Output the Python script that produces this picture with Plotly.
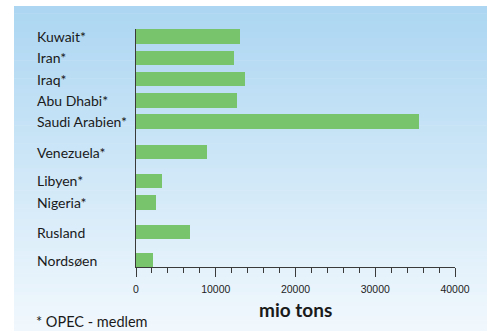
import plotly.graph_objects as go

categories = ["Kuwait*", "Iran*", "Iraq*", "Abu Dhabi*", "Saudi Arabien*",
              "Venezuela*", "Libyen*", "Nigeria*", "Rusland", "Nordsøen"]
reserves = [13100, 12300, 13700, 12650, 35500, 8900, 3250, 2500, 6750, 2100]
x_ticks = [0, 10000, 20000, 30000, 40000]
x_title = "mio tons"
footnote = "* OPEC - medlem"

# vertical layout slots (groups separated by small gaps)
slots = [0, 1, 2, 3, 4, 5.43, 6.78, 7.8, 9.18, 10.5]

W, H = 490, 331
ml, mr, mt, mb = 136, 35, 29, 64
pw, ph = W - ml - mr, H - mt - mb

def px_x(p):
    return (p - ml) / pw

def px_y(p):
    return (H - mb - p) / ph

LABEL_FONT = "Lato, Liberation Sans, Arial, sans-serif"

fig = go.Figure()
fig.add_trace(go.Bar(
    x=reserves, y=slots, orientation="h", width=0.68,
    marker=dict(color="#78c46c", line=dict(width=0)),
    hoverinfo="skip", showlegend=False,
))

# gradient background panel
shapes = []
N = 90
top_c = (172, 214, 242)
bot_c = (241, 248, 253)
y_top, y_bot = 6, 331
for i in range(N):
    t = i / (N - 1)
    c = tuple(round(top_c[k] + (bot_c[k] - top_c[k]) * t) for k in range(3))
    y0 = y_top + (y_bot - y_top) * i / N
    y1 = y_top + (y_bot - y_top) * (i + 1) / N + 0.6
    shapes.append(dict(
        type="rect", xref="paper", yref="paper", layer="below",
        x0=px_x(14), x1=px_x(487), y0=px_y(y1), y1=px_y(y0),
        fillcolor="rgb(%d,%d,%d)" % c, line=dict(width=0),
    ))

annotations = []
for name, s in zip(categories, slots):
    annotations.append(dict(
        text=name, x=px_x(35), xref="paper", y=s, yref="y",
        xanchor="left", yanchor="middle", showarrow=False,
        font=dict(family=LABEL_FONT, size=14, color="#1a1a1a"),
    ))
annotations.append(dict(
    text="<b>%s</b>" % x_title, x=0.5, xref="paper", y=px_y(309), yref="paper",
    xanchor="center", yanchor="middle", showarrow=False,
    font=dict(family=LABEL_FONT, size=19, color="#1a1a1a"),
))
annotations.append(dict(
    text=footnote, x=px_x(35), xref="paper", y=px_y(330.5), yref="paper",
    xanchor="left", yanchor="bottom", showarrow=False, borderpad=0,
    font=dict(family=LABEL_FONT, size=14.5, color="#1a1a1a"),
))

fig.update_layout(
    width=W, height=H,
    margin=dict(l=ml, r=mr, t=mt, b=mb, pad=0),
    paper_bgcolor="white", plot_bgcolor="rgba(0,0,0,0)",
    shapes=shapes, annotations=annotations,
    bargap=0,
    xaxis=dict(
        range=[0, 40000], tickvals=x_ticks, ticktext=[str(v) for v in x_ticks],
        showgrid=False, zeroline=False, showline=True, linecolor="#3a3a3a", linewidth=1,
        ticks="outside", ticklen=9, tickcolor="#3a3a3a", tickwidth=1,
        minor=dict(dtick=2000, ticks="outside", ticklen=5, tickcolor="#3a3a3a", showgrid=False),
        ticklabelstandoff=3,
        tickfont=dict(family="Liberation Sans, Arial, sans-serif", size=10.5, color="#222"),
        fixedrange=True,
    ),
    yaxis=dict(
        range=[10.5 + 0.322, -0.352], showticklabels=False, showgrid=False,
        zeroline=False, showline=True, linecolor="#3a3a3a", linewidth=1, ticks="",
        fixedrange=True,
    ),
)

fig.write_html("out.html")
